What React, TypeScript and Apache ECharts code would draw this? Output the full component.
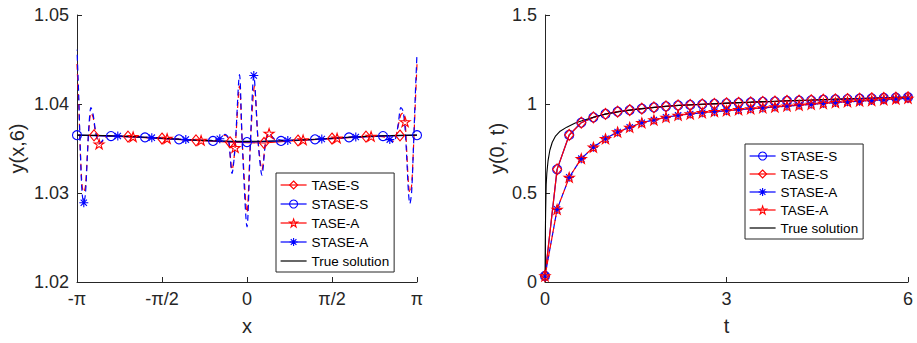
import React, { useEffect, useRef } from 'react';
import * as echarts from 'echarts';

// ---------------- Left panel: y(x,6), x in units of pi ----------------
const leftTickLabels = ['-π', '-π/2', '0', 'π/2', 'π'];
const leftYTicks = [1.02, 1.03, 1.04, 1.05];

const trueLeftX = [-1, -0.9, -0.8, -0.7, -0.6, -0.5, -0.4, -0.3, -0.2, -0.1, 0, 0.1, 0.2, 0.3, 0.4, 0.5, 0.6, 0.7, 0.8, 0.9, 1];
const trueLeftY = [1.0365, 1.03648, 1.03643, 1.03636, 1.03626, 1.03615, 1.03604, 1.03594, 1.03587, 1.03582, 1.0358, 1.03582, 1.03587, 1.03594, 1.03604, 1.03615, 1.03626, 1.03636, 1.03643, 1.03648, 1.0365];

const stasesLeftX = [-1, -0.8, -0.6, -0.4, -0.2, 0, 0.2, 0.4, 0.6, 0.8, 1];
const stasesLeftY = [1.0365, 1.0364, 1.03625, 1.03603, 1.03585, 1.03572, 1.03585, 1.03603, 1.03625, 1.0364, 1.0365];

const tasesLeftX = [-0.9, -0.7, -0.5, -0.3, -0.1, 0.1, 0.3, 0.5, 0.7, 0.9];
const tasesLeftY = [1.03648, 1.03634, 1.03612, 1.03592, 1.0357, 1.03562, 1.0359, 1.03612, 1.03634, 1.03646];

const taseALeft: [number, number][] = [
  [-1.0, 1.0445], [-0.99, 1.04], [-0.98, 1.0345], [-0.97, 1.0308], [-0.96, 1.0301], [-0.95, 1.0308],
  [-0.94, 1.034], [-0.93, 1.0372], [-0.918, 1.039], [-0.905, 1.0385], [-0.893, 1.037], [-0.88, 1.036],
  [-0.87, 1.0355], [-0.85, 1.0358], [-0.82, 1.03635], [-0.67, 1.03632], [-0.47, 1.03612], [-0.27, 1.03592],
  [-0.2, 1.0359], [-0.16, 1.03605], [-0.13, 1.0365], [-0.11, 1.0361], [-0.088, 1.0326], [-0.07, 1.0351],
  [-0.044, 1.042], [-0.028, 1.0357], [0.0, 1.0278], [0.02, 1.0357], [0.044, 1.042], [0.066, 1.0357],
  [0.088, 1.0326], [0.11, 1.0358], [0.13, 1.0367], [0.16, 1.03605], [0.2, 1.0359], [0.33, 1.03597],
  [0.53, 1.03617], [0.73, 1.03636], [0.82, 1.03625], [0.86, 1.0358], [0.875, 1.0363], [0.89, 1.0376],
  [0.905, 1.0388], [0.918, 1.039], [0.93, 1.038], [0.94, 1.0345], [0.95, 1.031], [0.958, 1.03],
  [0.968, 1.0308], [0.978, 1.0345], [0.99, 1.04], [1.0, 1.0445],
];
const taseALeftMarks = [-0.87, -0.67, -0.47, -0.27, -0.07, 0.13, 0.33, 0.53, 0.73, 0.93];

const staseALeft: [number, number][] = [
  [-1.0, 1.0461], [-0.99, 1.041], [-0.98, 1.0345], [-0.97, 1.03], [-0.96, 1.0289], [-0.95, 1.03],
  [-0.94, 1.0338], [-0.93, 1.0375], [-0.918, 1.0396], [-0.905, 1.0388], [-0.893, 1.0372], [-0.88, 1.036],
  [-0.865, 1.0356], [-0.845, 1.036], [-0.82, 1.0364], [-0.76, 1.0364], [-0.66, 1.03632], [-0.56, 1.03622],
  [-0.46, 1.0361], [-0.36, 1.036], [-0.26, 1.03592], [-0.2, 1.03592], [-0.16, 1.0361], [-0.13, 1.0366],
  [-0.11, 1.0362], [-0.088, 1.0322], [-0.07, 1.0352], [-0.044, 1.0433], [-0.028, 1.0356], [0.0, 1.0262],
  [0.02, 1.0356], [0.04, 1.0432], [0.066, 1.0356], [0.088, 1.032], [0.11, 1.0358], [0.13, 1.0367],
  [0.16, 1.03612], [0.24, 1.0359], [0.34, 1.03597], [0.44, 1.03606], [0.54, 1.03618], [0.64, 1.0363],
  [0.74, 1.03637], [0.8, 1.0364], [0.84, 1.036], [0.86, 1.03575], [0.875, 1.0362], [0.89, 1.0378],
  [0.905, 1.0396], [0.918, 1.0392], [0.93, 1.0372], [0.94, 1.0338], [0.95, 1.03], [0.958, 1.0288],
  [0.968, 1.03], [0.978, 1.0345], [0.99, 1.041], [1.0, 1.0457],
];
const staseALeftMarks = [-0.96, -0.76, -0.56, -0.36, -0.16, 0.04, 0.24, 0.44, 0.64, 0.84];

// ---------------- Right panel: y(0,t) ----------------
const rightXTicks = [0, 3, 6];
const rightYTicks = [0, 0.5, 1, 1.5];
const tMarks = [0, 0.2, 0.4, 0.6, 0.8, 1, 1.2, 1.4, 1.6, 1.8, 2, 2.2, 2.4, 2.6, 2.8, 3, 3.2, 3.4, 3.6, 3.8, 4, 4.2, 4.4, 4.6, 4.8, 5, 5.2, 5.4, 5.6, 5.8, 6];
const stasesRight = [0.034, 0.633, 0.826, 0.895, 0.925, 0.944, 0.957, 0.966, 0.974, 0.981, 0.987, 0.992, 0.995, 0.998, 1.001, 1.004, 1.007, 1.009, 1.012, 1.014, 1.017, 1.019, 1.021, 1.024, 1.026, 1.028, 1.03, 1.032, 1.034, 1.036, 1.038];
const tasesRight = [0.034, 0.633, 0.826, 0.895, 0.925, 0.944, 0.957, 0.966, 0.974, 0.981, 0.987, 0.992, 0.995, 0.998, 1.001, 1.004, 1.007, 1.009, 1.012, 1.014, 1.017, 1.019, 1.021, 1.024, 1.026, 1.028, 1.03, 1.032, 1.034, 1.036, 1.038];
const staseARight = [0.034, 0.408, 0.588, 0.693, 0.757, 0.805, 0.843, 0.869, 0.895, 0.91, 0.925, 0.936, 0.944, 0.951, 0.957, 0.962, 0.968, 0.973, 0.978, 0.983, 0.988, 0.993, 0.998, 1.003, 1.008, 1.012, 1.016, 1.02, 1.024, 1.028, 1.032];
const taseARight = [0.034, 0.408, 0.588, 0.693, 0.757, 0.805, 0.843, 0.869, 0.895, 0.91, 0.925, 0.936, 0.944, 0.951, 0.957, 0.962, 0.968, 0.973, 0.978, 0.983, 0.988, 0.993, 0.998, 1.003, 1.008, 1.012, 1.016, 1.02, 1.024, 1.028, 1.032];
const tTrue = [0, 0.003, 0.006, 0.01, 0.015, 0.02, 0.03, 0.05, 0.08, 0.12, 0.17, 0.25, 0.36, 0.5, 0.65, 0.8, 1.0, 1.25, 1.5, 2, 2.5, 3, 3.5, 4, 4.5, 5, 5.5, 6];
const yTrueRight = [0, 0.15, 0.28, 0.38, 0.47, 0.55, 0.61, 0.68, 0.74, 0.785, 0.818, 0.847, 0.87, 0.893, 0.91, 0.926, 0.943, 0.958, 0.97, 0.987, 0.997, 1.005, 1.012, 1.018, 1.024, 1.029, 1.034, 1.039];

// ---------------- styling ----------------
const FONT = '"Liberation Sans", Arial, Helvetica, sans-serif';
const RED = '#ff0000';
const BLUE = '#0000ff';
const AXIS = '#262626';
const STAR = 'path://M0,-10L2.245,-3.09L9.51,-3.09L3.63,1.18L5.88,8.09L0,3.82L-5.88,8.09L-3.63,1.18L-9.51,-3.09L-2.245,-3.09Z';
const ASTER = 'path://M0,-10L0,10M-10,0L10,0M-7,-7L7,7M-7,7L7,-7';

const symbolDefs: Record<string, { symbol: string; size: number | number[]; color: string }> = {
  'TASE-S': { symbol: 'diamond', size: [9, 11], color: RED },
  'STASE-S': { symbol: 'circle', size: 9, color: BLUE },
  'TASE-A': { symbol: STAR, size: 10, color: RED },
  'STASE-A': { symbol: ASTER, size: 9, color: BLUE },
};

function markerSeries(name: string, gridIdx: number, data: any[], lineType: any, dashOffset = 0) {
  const d = symbolDefs[name];
  return {
    type: 'line',
    name,
    xAxisIndex: gridIdx,
    yAxisIndex: gridIdx,
    data,
    smooth: false,
    symbol: d.symbol,
    symbolSize: d.size,
    symbolKeepAspect: true,
    showSymbol: true,
    showAllSymbol: true,
    color: d.color,
    lineStyle: { color: d.color, width: 1.2, type: lineType, dashOffset },
    itemStyle: { color: 'rgba(255,255,255,0)', borderColor: d.color, borderWidth: 1.1 },
    emphasis: { disabled: true },
    silent: true,
  };
}

function withMarks(points: [number, number][], marks: number[]) {
  return points.map(([x, y]) => (marks.includes(x) ? [x, y] : { value: [x, y], symbol: 'none' }));
}

function trueSeries(gridIdx: number, data: any[]) {
  return {
    type: 'line',
    name: 'True solution',
    xAxisIndex: gridIdx,
    yAxisIndex: gridIdx,
    data,
    symbol: 'circle',
    showSymbol: false,
    color: '#000',
    lineStyle: { color: '#000', width: 1.1, type: 'solid' },
    itemStyle: { color: 'rgba(0,0,0,0)', borderColor: 'rgba(0,0,0,0)', borderWidth: 0 },
    emphasis: { disabled: true },
    silent: true,
  };
}

const axisCommon = {
  axisLine: { show: true, onZero: false, lineStyle: { color: AXIS, width: 1 } },
  axisTick: { show: true, inside: true, length: 5, lineStyle: { color: AXIS } },
  splitLine: { show: false },
  axisLabel: { color: AXIS, fontSize: 18, fontFamily: FONT, margin: 8 },
  nameTextStyle: { color: AXIS, fontSize: 20, fontFamily: FONT },
  nameLocation: 'middle' as const,
};

const legendCommon = {
  orient: 'vertical' as const,
  backgroundColor: '#ffffff',
  borderColor: AXIS,
  borderWidth: 1,
  borderRadius: 0,
  padding: [5, 5, 4, 4],
  itemWidth: 26,
  itemHeight: 10,
  itemGap: 5,
  textStyle: { color: '#000', fontSize: 13.5, fontFamily: FONT },
  lineStyle: { type: 'solid' as const, width: 1.2 },
  itemStyle: { color: 'rgba(255,255,255,0)', borderWidth: 1.1 },
  selectedMode: false,
};

export default function App() {
  const ref = useRef<HTMLDivElement>(null);
  useEffect(() => {
    if (!ref.current) return;
    const chart = echarts.init(ref.current, undefined, { renderer: 'svg' });
    const series: any[] = [
      // left panel
      markerSeries('TASE-S', 0, tasesLeftX.map((x, i) => [x, tasesLeftY[i]]), 'solid'),
      markerSeries('STASE-S', 0, stasesLeftX.map((x, i) => [x, stasesLeftY[i]]), 'solid'),
      markerSeries('TASE-A', 0, withMarks(taseALeft, taseALeftMarks), [6, 4], 0),
      markerSeries('STASE-A', 0, withMarks(staseALeft, staseALeftMarks), [6, 4], 5),
      trueSeries(0, trueLeftX.map((x, i) => [x, trueLeftY[i]])),
      // right panel
      markerSeries('STASE-S', 1, tMarks.map((t, i) => [t, stasesRight[i]]), 'solid'),
      markerSeries('TASE-S', 1, tMarks.map((t, i) => [t, tasesRight[i]]), 'solid'),
      markerSeries('STASE-A', 1, tMarks.map((t, i) => [t, staseARight[i]]), [5, 3], 0),
      markerSeries('TASE-A', 1, tMarks.map((t, i) => [t, taseARight[i]]), [5, 3], 4),
      trueSeries(1, tTrue.map((t, i) => [t, yTrueRight[i]])),
    ];
    series.forEach((s) => {
      if (s.xAxisIndex === 0 && (s.name === 'TASE-A' || s.name === 'STASE-A')) s.smooth = 0.3;
    });
    chart.setOption({
      animation: false,
      textStyle: { fontFamily: FONT },
      grid: [
        { left: 77, right: 500, top: 15, bottom: 61, containLabel: false },
        { left: 545, right: 9, top: 15, bottom: 61, containLabel: false },
      ],
      xAxis: [
        {
          ...axisCommon,
          gridIndex: 0,
          type: 'value',
          min: -1,
          max: 1,
          interval: 0.5,
          name: 'x',
          nameGap: 34,
          axisLabel: {
            ...axisCommon.axisLabel,
            formatter: (v: number) => leftTickLabels[Math.round((v + 1) / 0.5)] ?? '',
          },
        },
        {
          ...axisCommon,
          gridIndex: 1,
          type: 'value',
          min: rightXTicks[0],
          max: rightXTicks[rightXTicks.length - 1],
          interval: 3,
          name: 't',
          nameGap: 34,
        },
      ],
      yAxis: [
        {
          ...axisCommon,
          gridIndex: 0,
          type: 'value',
          min: leftYTicks[0],
          max: leftYTicks[leftYTicks.length - 1],
          interval: 0.01,
          name: 'y(x,6)',
          nameGap: 50,
          axisLabel: { ...axisCommon.axisLabel, formatter: (v: number) => v.toFixed(2) },
        },
        {
          ...axisCommon,
          gridIndex: 1,
          type: 'value',
          min: rightYTicks[0],
          max: rightYTicks[rightYTicks.length - 1],
          interval: 0.5,
          name: 'y(0, t)',
          nameGap: 38,
        },
      ],
      legend: [
        {
          ...legendCommon,
          left: 276,
          top: 173,
          data: ['TASE-S', 'STASE-S', 'TASE-A', 'STASE-A', 'True solution'],
        },
        {
          ...legendCommon,
          left: 745,
          top: 144,
          itemGap: 4,
          data: ['STASE-S', 'TASE-S', 'STASE-A', 'TASE-A', 'True solution'],
        },
      ],
      series,
    });
    return () => chart.dispose();
  }, []);
  return (
    <div
      ref={ref}
      style={{ position: 'fixed', left: 0, top: 0, width: 917, height: 343, background: '#fff' }}
    />
  );
}
